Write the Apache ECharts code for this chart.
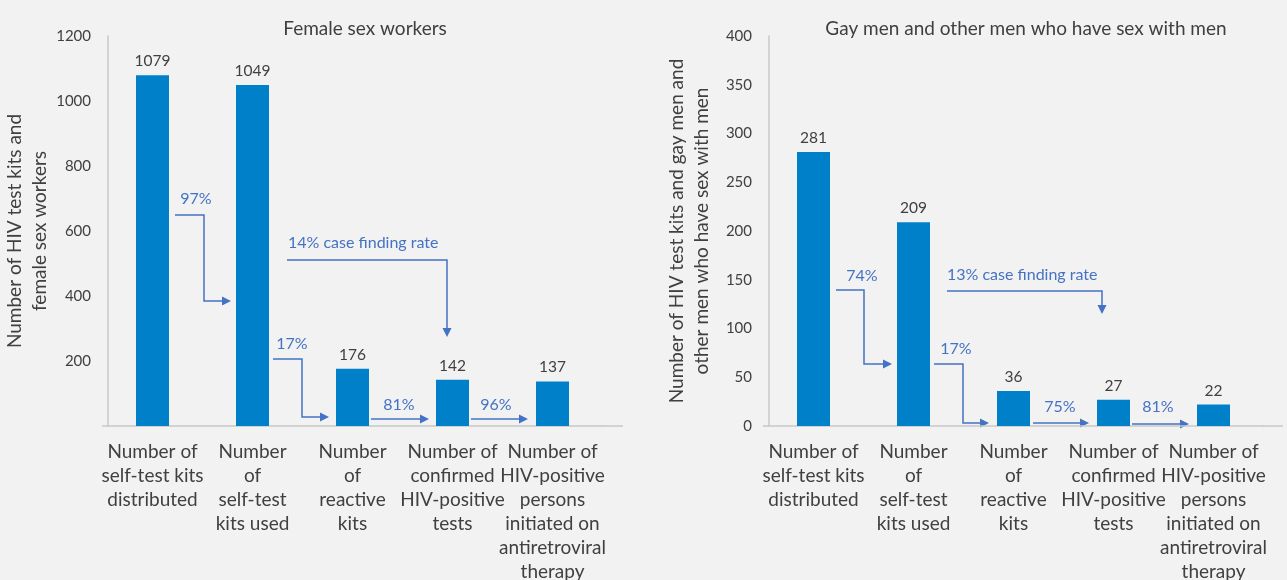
<!DOCTYPE html>
<html>
<head>
<meta charset="utf-8">
<script src="https://cdn.jsdelivr.net/npm/echarts@6/dist/echarts.min.js"></script>
<style>
  html, body { margin: 0; padding: 0; background: #f2f2f2; }
  #chart { width: 1287px; height: 580px; }
</style>
</head>
<body>
<div id="chart"></div>
<script>
  // categories shared by both panels
  const categories = [
    'Number of\nself-test kits\ndistributed',
    'Number\nof\nself-test\nkits used',
    'Number\nof\nreactive\nkits',
    'Number of\nconfirmed\nHIV-positive\ntests',
    'Number of\nHIV-positive\npersons\ninitiated on\nantiretroviral\ntherapy'
  ]
  const fswValues = [1079, 1049, 176, 142, 137]
  const msmValues = [281, 209, 36, 27, 22]
  const fswRates = ['97%', '17%', '81%', '96%', '14% case finding rate']
  const msmRates = ['74%', '17%', '75%', '81%', '13% case finding rate']

  const FONT = 'Lato'
  const BAR = '#0080c8'
  const ARROW = '#4472c4'
  const TXT = '#404040'
  const AXIS = '#c8c8c8'

  // arrow helper: polyline + triangle head (right or down)
  function arrow(pts, dir) {
    const [x, y] = pts[pts.length - 1]
    const head = dir === 'down'
      ? [[x, y], [x - 4.5, y - 9], [x + 4.5, y - 9]]
      : [[x, y], [x - 9, y - 4.5], [x - 9, y + 4.5]]
    const end = dir === 'down' ? [x, y - 8] : [x - 8, y]
    const line = pts.slice(0, -1).concat([end])
    return [
      { type: 'polyline', shape: { points: line }, style: { stroke: ARROW, lineWidth: 1.5, fill: null } },
      { type: 'polygon', shape: { points: head }, style: { fill: ARROW } }
    ]
  }
  function note(text, x, y, align) {
    return {
      type: 'text', x: x, y: y,
      style: { text: text, fill: ARROW, font: '16px ' + FONT, align: align || 'center', verticalAlign: 'middle' }
    }
  }
  // baseline runs a little past the last category in the original
  function baseExt(x1, x2) {
    return { type: 'line', shape: { x1: x1, y1: 426, x2: x2, y2: 426 }, style: { stroke: AXIS, lineWidth: 1.5 } }
  }

  const graphics = [].concat(
    baseExt(602, 623), baseExt(1263, 1283),
    // left panel
    arrow([[175, 215], [204, 215], [204, 301], [231, 301]]), note(fswRates[0], 196, 199),
    arrow([[273, 359], [302, 359], [302, 417], [329, 417]]), note(fswRates[1], 292, 344),
    arrow([[371, 419], [429, 419]]), note(fswRates[2], 399, 405),
    arrow([[471, 419], [528, 419]]), note(fswRates[3], 496, 405),
    arrow([[287, 260], [447, 260], [447, 337]], 'down'), note(fswRates[4], 288, 243, 'left'),
    // right panel
    arrow([[836, 290], [864, 290], [864, 364], [892, 364]]), note(msmRates[0], 862, 276),
    arrow([[934, 364], [963, 364], [963, 423], [989, 423]]), note(msmRates[1], 956, 349),
    arrow([[1033, 423], [1089, 423]]), note(msmRates[2], 1060, 407),
    arrow([[1132, 424], [1189, 424]]), note(msmRates[3], 1158, 407),
    arrow([[947, 291], [1102, 291], [1102, 314]], 'down'), note(msmRates[4], 947, 275, 'left')
  )

  function xAxisFor(idx) {
    return {
      type: 'category', gridIndex: idx, data: categories,
      axisLine: { lineStyle: { color: AXIS, width: 1.5 } },
      axisTick: { show: false },
      axisLabel: { interval: 0, color: TXT, fontFamily: FONT, fontSize: 19, lineHeight: 24, margin: 14 }
    }
  }
  function yAxisFor(idx, max, interval, name, hideZero) {
    return {
      type: 'value', gridIndex: idx, min: 0, max: max, interval: interval, offset: -5.5,
      name: name, nameLocation: 'middle', nameRotate: 90, nameGap: 55,
      nameTextStyle: { color: TXT, fontFamily: FONT, fontSize: 19, lineHeight: 25 },
      axisLine: { show: true, lineStyle: { color: AXIS, width: 1.5 } },
      axisTick: { show: false },
      splitLine: { show: false },
      axisLabel: {
        color: TXT, fontFamily: FONT, fontSize: 15, margin: 17,
        formatter: v => (hideZero && v === 0 ? '' : v)
      }
    }
  }
  function barSeries(idx, data) {
    return {
      type: 'bar', xAxisIndex: idx, yAxisIndex: idx, data: data, barWidth: 33,
      itemStyle: { color: BAR },
      label: { show: true, position: 'top', distance: 6, color: TXT, fontFamily: FONT, fontSize: 15.5 }
    }
  }

  const chart = echarts.init(document.getElementById('chart'))
  chart.setOption({
    backgroundColor: '#f2f2f2',
    animation: false,
    title: [
      { text: 'Female sex workers', left: 360, top: 14, textAlign: 'center',
        textStyle: { color: TXT, fontFamily: FONT, fontSize: 19, fontWeight: 'normal' } },
      { text: 'Gay men and other men who have sex with men', left: 1021, top: 14, textAlign: 'center',
        textStyle: { color: TXT, fontFamily: FONT, fontSize: 19, fontWeight: 'normal' } }
    ],
    grid: [
      { left: 102.5, width: 500, top: 36, height: 390, outerBoundsMode: 'none' },
      { left: 763.5, width: 500, top: 36, height: 390, outerBoundsMode: 'none' }
    ],
    xAxis: [xAxisFor(0), xAxisFor(1)],
    yAxis: [
      yAxisFor(0, 1200, 200, 'Number of HIV test kits and\nfemale sex workers', true),
      yAxisFor(1, 400, 50, 'Number of HIV test kits and gay men and\nother men who have sex with men', false)
    ],
    series: [barSeries(0, fswValues), barSeries(1, msmValues)],
    graphic: graphics
  })
</script>
</body>
</html>
